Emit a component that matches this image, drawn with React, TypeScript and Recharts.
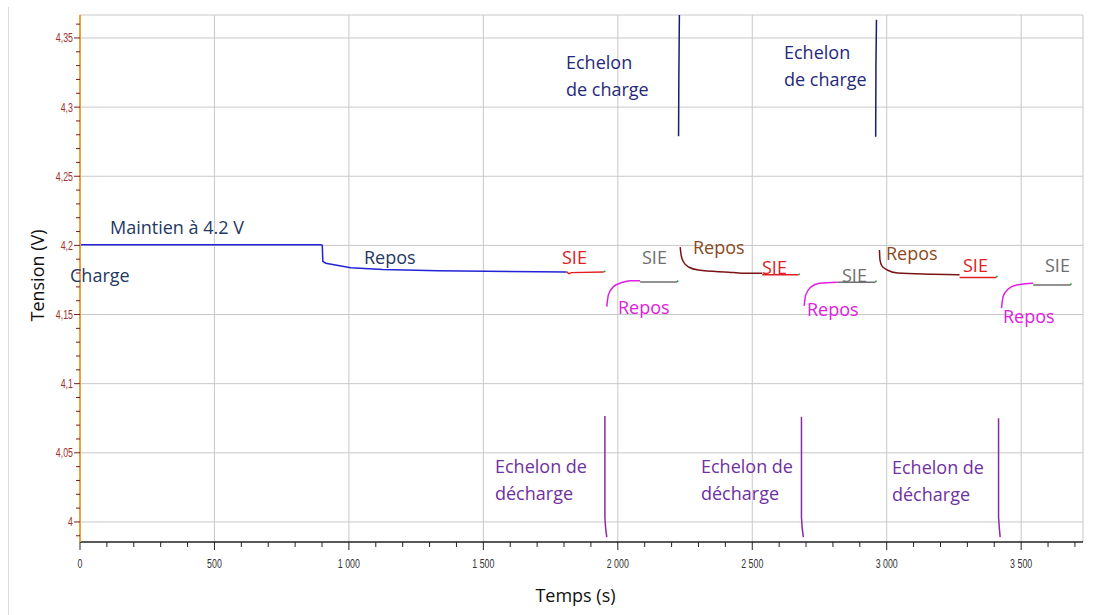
import { LineChart, Line, XAxis, YAxis, CartesianGrid } from "recharts";

type Pt = { t: number; v: number };
const pts = (a: number[][]): Pt[] => a.map(([t, v]) => ({ t, v }));

// tension (V) vs temps (s)
const chargeHold = pts([[0, 4.2004], [895, 4.2004], [901, 4.2], [903, 4.1885], [914, 4.1871], [1007, 4.1839], [1126, 4.1825], [1331, 4.1816], [1810, 4.1808]]);
const sie1 = pts([[1810, 4.1808], [1818, 4.1795], [1828, 4.1803], [1948, 4.1808]]);
const decharge1 = pts([[1952, 4.0767], [1952, 4.003], [1955, 3.995], [1959, 3.989]]);
const reposD1 = pts([[1959, 4.1557], [1965, 4.1642], [1984, 4.1702], [2015, 4.1731], [2046, 4.1745], [2083, 4.1745]]);
const sieD1 = pts([[2083, 4.1735], [2220, 4.1735]]);
const charge1 = pts([[2226, 4.279], [2227, 4.32], [2229, 4.3666]]);
const reposC1 = pts([[2232, 4.1987], [2236, 4.1925], [2245, 4.1878], [2265, 4.1842], [2300, 4.1822], [2413, 4.1806], [2463, 4.1799], [2537, 4.1799]]);
const sieC1 = pts([[2537, 4.1787], [2672, 4.1787]]);
const decharge2 = pts([[2683, 4.076], [2683, 4.003], [2686, 3.995], [2690, 3.989]]);
const reposD2 = pts([[2693, 4.1563], [2699, 4.1642], [2718, 4.1698], [2749, 4.1727], [2817, 4.1734]]);
const sieD2 = pts([[2817, 4.1734], [2958, 4.1734]]);
const charge2 = pts([[2959, 4.2785], [2960, 4.33], [2962, 4.3631]]);
const reposC2 = pts([[2973, 4.1967], [2975, 4.1895], [2982, 4.1852], [3002, 4.1822], [3040, 4.1801], [3172, 4.1792], [3271, 4.1787]]);
const sieC2 = pts([[3271, 4.1768], [3407, 4.1768]]);
const decharge3 = pts([[3416, 4.075], [3416, 4.003], [3419, 3.995], [3422, 3.989]]);
const reposD3 = pts([[3427, 4.1546], [3433, 4.163], [3451, 4.1683], [3483, 4.1714], [3545, 4.1727]]);
const sieD3 = pts([[3545, 4.1714], [3682, 4.1714]]);
const endMarks = [
  pts([[1948, 4.1808], [1954, 4.1815]]),
  pts([[2220, 4.1735], [2225, 4.1745]]),
  pts([[2672, 4.1787], [2677, 4.1795]]),
  pts([[2958, 4.1734], [2962, 4.1745]]),
  pts([[3407, 4.1768], [3412, 4.1778]]),
  pts([[3682, 4.1714], [3687, 4.1725]]),
];

const xMajor = [0, 500, 1000, 1500, 2000, 2500, 3000, 3500];
const xTicks = Array.from({ length: 38 }, (_, i) => i * 100);
const yMajor = [4, 4.05, 4.1, 4.15, 4.2, 4.25, 4.3, 4.35];
const yTicks = Array.from({ length: 38 }, (_, i) => +(3.99 + i * 0.01).toFixed(2));
const X_MAX = 3730;
const Y_MIN = 3.9855;
const Y_MAX = 4.3666;

const NAVY = "#1f3864";
const ECH = "#1f2a7a";
const MAGENTA = "#e020e0";
const RED = "#e02020";
const GREY = "#6e6e6e";
const BROWN = "#8a4a1c";
const PURPLE = "#7030a0";

const notes = [
  { text: "Maintien à 4.2 V", x: 110, y: 228, color: NAVY },
  { text: "Charge", x: 70, y: 276, color: NAVY },
  { text: "Repos", x: 364, y: 258, color: NAVY },
  { text: "SIE", x: 562, y: 258, color: RED },
  { text: "SIE", x: 642, y: 258, color: GREY },
  { text: "Repos", x: 618, y: 308, color: MAGENTA },
  { text: "Repos", x: 693, y: 248, color: BROWN },
  { text: "SIE", x: 762, y: 268, color: RED },
  { text: "SIE", x: 842, y: 276, color: GREY },
  { text: "Repos", x: 807, y: 310, color: MAGENTA },
  { text: "Repos", x: 886, y: 254, color: BROWN },
  { text: "SIE", x: 963, y: 266, color: RED },
  { text: "SIE", x: 1045, y: 266, color: GREY },
  { text: "Repos", x: 1003, y: 317, color: MAGENTA },
  { text: "Echelon\nde charge", x: 566, y: 63, color: ECH },
  { text: "Echelon\nde charge", x: 784, y: 53, color: ECH },
  { text: "Echelon de\ndécharge", x: 495, y: 467, color: PURPLE },
  { text: "Echelon de\ndécharge", x: 701, y: 467, color: PURPLE },
  { text: "Echelon de\ndécharge", x: 892, y: 468, color: PURPLE },
];

const tickFont = "'Liberation Sans', Arial, sans-serif";
const fmtX = (v: number) => String(v).replace(/\B(?=(\d{3})+(?!\d))/g, " ");
const fmtY = (v: number) => String(v).replace(".", ",");

const XTick = ({ x, y, payload }: any) => {
  const major = xMajor.includes(payload.value);
  return (
    <g>
      <line x1={x} x2={x} y1={y} y2={y + (major ? 8 : 5)} stroke="#222" />
      {major && (
        <g transform={`translate(${x},${y + 26}) scale(0.68,1)`}>
          <text textAnchor="middle" fontSize={13} fontFamily={tickFont} fill="#333">
            {fmtX(payload.value)}
          </text>
        </g>
      )}
    </g>
  );
};

const YTick = ({ x, y, payload }: any) => {
  const major = yMajor.includes(payload.value);
  return (
    <g>
      <line x1={x - (major ? 6 : 4)} x2={x} y1={y} y2={y} stroke="#7a1a1a" />
      {major && (
        <g transform={`translate(${x - 7},${y + 4.5}) scale(0.68,1)`}>
          <text textAnchor="end" fontSize={13} fontFamily={tickFont} fill="#a0302a">
            {fmtY(payload.value)}
          </text>
        </g>
      )}
    </g>
  );
};

const seg = (data: Pt[], color: string, curve = false, key?: string) => (
  <Line
    key={key}
    data={data}
    dataKey="v"
    type={curve ? "monotone" : "linear"}
    stroke={color}
    strokeWidth={1.5}
    dot={false}
    activeDot={false}
    isAnimationActive={false}
  />
);

export default function App() {
  return (
    <div style={{ position: "absolute", left: 0, top: 0, width: 1103, height: 615, background: "#fff" }}>
      <div style={{ position: "absolute", left: 8, top: 7, width: 1, height: 608, background: "#dcdcdc" }} />
      <LineChart width={1103} height={615} margin={{ top: 15, right: 20, left: 0, bottom: 0 }}>
        <CartesianGrid
          stroke="#c8c8c8"
          horizontalValues={[...yMajor, Y_MAX]}
          verticalValues={[...xMajor, X_MAX]}
        />
        <XAxis
          dataKey="t"
          type="number"
          domain={[0, X_MAX]}
          allowDataOverflow
          ticks={xTicks}
          interval={0}
          tick={<XTick />}
          tickSize={0}
          tickMargin={0}
          tickLine={false}
          height={73}
          axisLine={{ stroke: "#222", strokeWidth: 1.5 }}
          label={{
            value: "Temps (s)",
            position: "insideBottom",
            offset: 13,
            dx: -6,
            style: { fontFamily: "'Open Sans', sans-serif", fontSize: 18, fill: "#111" },
          }}
        />
        <YAxis
          type="number"
          domain={[Y_MIN, Y_MAX]}
          allowDataOverflow
          ticks={yTicks}
          interval={0}
          tick={<YTick />}
          tickSize={0}
          tickMargin={0}
          tickLine={false}
          width={80}
          axisLine={{ stroke: "#eaa040", strokeWidth: 2 }}
          label={{
            value: "Tension (V)",
            angle: -90,
            position: "insideLeft",
            offset: 38,
            dy: -3,
            style: { fontFamily: "'Open Sans', sans-serif", fontSize: 18, fill: "#111", textAnchor: "middle" },
          }}
        />
        {seg(chargeHold, "#2222d6")}
        {seg(sie1, RED)}
        {seg(decharge1, "#8a2ca0")}
        {seg(reposD1, MAGENTA, true)}
        {seg(sieD1, GREY)}
        {seg(charge1, "#1c1c70")}
        {seg(reposC1, "#7a1414", true)}
        {seg(sieC1, RED)}
        {seg(decharge2, "#8a2ca0")}
        {seg(reposD2, MAGENTA, true)}
        {seg(sieD2, GREY)}
        {seg(charge2, "#1c1c70")}
        {seg(reposC2, "#7a1414", true)}
        {seg(sieC2, RED)}
        {seg(decharge3, "#8a2ca0")}
        {seg(reposD3, MAGENTA, true)}
        {seg(sieD3, GREY)}
        {endMarks.map((m, i) => seg(m, "#2a9a40", false, `g${i}`))}
      </LineChart>
      {notes.map((n, i) => (
        <div
          key={i}
          style={{
            position: "absolute",
            left: n.x,
            top: n.y - 14,
            color: n.color,
            fontFamily: "'Open Sans', sans-serif",
            fontSize: 18,
            lineHeight: "27px",
            whiteSpace: "pre",
          }}
        >
          {n.text}
        </div>
      ))}
    </div>
  );
}
